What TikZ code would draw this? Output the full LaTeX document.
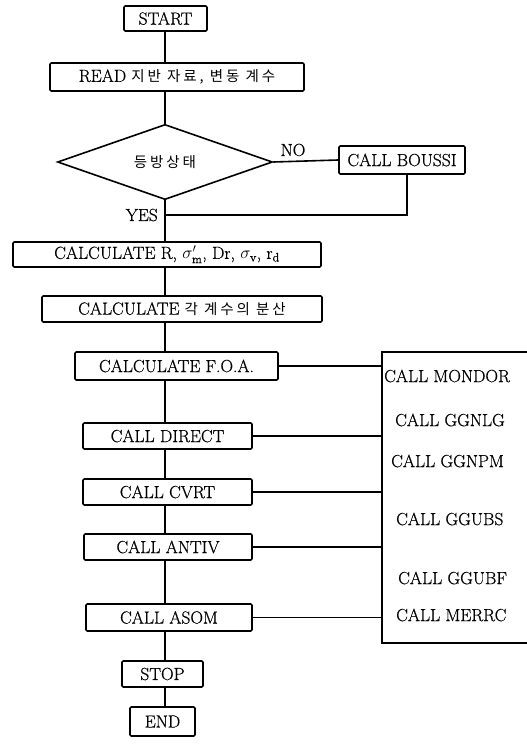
\documentclass[tikz,border=0pt]{standalone}
\usepackage{fontspec}
\setmainfont{Latin Modern Roman}[FakeBold=0.6]
\newfontfamily\kr{Noto Sans CJK KR}[LetterSpace=20]
\usetikzlibrary{shapes.geometric}
\newcommand{\ko}[1]{{\kr\fontsize{14.5}{16}\selectfont #1}}
\tikzset{
  every node/.style={font=\fontsize{17.5}{20}\selectfont},
  box/.style={draw, line width=1.6pt, rounded corners=1.2pt, inner sep=0pt, align=center},
  cond/.style={draw, diamond, line width=1.6pt, inner sep=0pt},
  link/.style={line width=1.6pt},
  lbl/.style={inner sep=0pt},
}
\begin{document}
\begin{tikzpicture}[x=1pt,y=-1pt]
\useasboundingbox (0,0) rectangle (527,745);
\fill[white] (0,0) rectangle (527,745);

% main column
\coordinate (axis) at (165,0);
\node[box, minimum width=83pt, minimum height=25pt] (start) at (165.5,18.5) {START};
\node[box, minimum width=254pt, minimum height=28pt] (read) at (177,77) {READ \ko{지반 자료, 변동 계수}};
\node[cond, minimum width=215pt, minimum height=66pt] (iso) at (165,162) {\ko{등방상태}};
\node[box, minimum width=126pt, minimum height=28pt] (boussi) at (402,160) {CALL BOUSSI};
\node[box, minimum width=308pt, minimum height=25pt] (calcr) at (167,254.5)
  {CALCULATE R, $\sigma'_{\mathrm{m}}$, Dr, $\sigma_{\mathrm{v}}$, $\mathrm{r_d}$};
\node[box, minimum width=280pt, minimum height=26pt] (var) at (182,309) {CALCULATE \ko{각 계수의 분산}};
\node[box, minimum width=203pt, minimum height=28pt] (foa) at (176.5,366) {CALCULATE F.O.A.};
\node[box, minimum width=169pt, minimum height=26pt] (direct) at (167.5,436) {CALL DIRECT};
\node[box, minimum width=169pt, minimum height=26pt] (cvrt) at (167.5,492) {CALL CVRT};
\node[box, minimum width=168pt, minimum height=26pt] (antiv) at (168,547) {CALL ANTIV};
\node[box, minimum width=166pt, minimum height=27pt] (asom) at (169,617.5) {CALL ASOM};
\node[box, minimum width=81pt, minimum height=26pt] (stop) at (162.5,674) {STOP};
\node[box, minimum width=65pt, minimum height=29pt] (end) at (162.5,721.5) {END};

% subroutine block on the right; its right side runs off the page
\coordinate (subnw) at (382,352);
\coordinate (subsw) at (382,643);
\coordinate (subne) at (527,352);
\coordinate (subse) at (527,643);
\draw[link] (subne) -- (subnw) -- (subsw) -- (subse);
\node[lbl, anchor=west] (s1) at (384,376) {CALL MONDOR};
\node[lbl, anchor=west] (s2) at (395,420) {CALL GGNLG};
\node[lbl, anchor=west] (s3) at (391,461) {CALL GGNPM};
\node[lbl, anchor=west] (s4) at (396,519) {CALL GGUBS};
\node[lbl, anchor=west] (s5) at (398,578) {CALL GGUBF};
\node[lbl, anchor=west] (s6) at (396,615) {CALL MERRC};

% vertical flow
\draw[link] (start.south -| axis) -- (read.north -| axis);
\draw[link] (read.south -| axis) -- (iso.north);
\draw[link] (iso.south) -- (calcr.north -| axis);
\draw[link] (calcr.south -| axis) -- (var.north -| axis);
\draw[link] (var.south -| axis) -- (foa.north -| axis);
\draw[link] (foa.south -| axis) -- (direct.north -| axis);
\draw[link] (direct.south -| axis) -- (cvrt.north -| axis);
\draw[link] (cvrt.south -| axis) -- (antiv.north -| axis);
\draw[link] (antiv.south -| axis) -- (asom.north -| axis);
\draw[link] (asom.south -| axis) -- (stop.north -| axis);
\draw[link] (stop.south -| axis) -- (end.north -| axis);

% NO branch and return
\coordinate (join) at (165,215);
\coordinate (back) at (407,215);
\draw[link] (iso.east) -- (boussi.west);
\node[lbl] (no) at (293,150) {NO};
\draw[link] (boussi.south -| back) -- (back) -- (join);
\node[lbl, anchor=east] (yes) at (158,215) {YES};

% links to the subroutine block
\draw[link] (foa.east) -- (foa.east -| subnw);
\draw[link] (direct.east) -- (direct.east -| subnw);
\draw[link] (cvrt.east) -- (cvrt.east -| subnw);
\draw[link] (antiv.east) -- (antiv.east -| subnw);
\draw[link] (asom.east) -- (asom.east -| subnw);
\end{tikzpicture}
\end{document}
